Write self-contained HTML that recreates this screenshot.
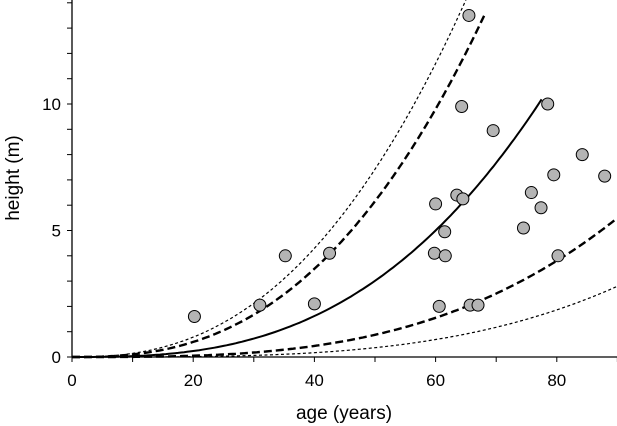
<!DOCTYPE html>
<html><head><meta charset="utf-8"><style>
body{margin:0;background:#fff}
svg{display:block;font-family:"Liberation Sans",sans-serif}
</style></head><body>
<svg id="chart" width="617" height="426" viewBox="0 0 617 426"></svg>
<script>
const ages=[20.2,31,35.2,40,42.5,59.8,60,60.6,61.5,61.6,63.5,64.3,64.5,65.5,65.7,67,69.5,74.5,75.8,77.4,78.5,79.5,80.2,84.2,87.9];
const heights=[1.6,2.05,4.0,2.1,4.1,4.1,6.05,2.0,4.95,4.0,6.4,9.9,6.25,13.5,2.05,2.05,8.95,5.1,6.5,5.9,10.0,7.2,4.0,8.0,7.15];
const curveNames=['upper-dotted','upper-dashed','fit','lower-dashed','lower-dotted'];
const curveH60=[11.6,9.8,5.0,1.55,0.69];
const curveExp=[2.45,2.55,2.78,3.12,3.45];
const curveEnd=[66,68,77.5,90,90];
const xTicks=[0,20,40,60,80];
const yTicks=[0,5,10];
const NS='http://www.w3.org/2000/svg';
const svg=document.getElementById('chart');
const X=v=>72+v*6.06, Y=v=>357-v*25.3;
function mk(t,a,p){const e=document.createElementNS(NS,t);for(const k in a)e.setAttribute(k,a[k]);(p||svg).appendChild(e);return e;}
const ax=mk('line',{x1:72,y1:0,x2:72,y2:357,stroke:'#000','stroke-width':1.3});


const axx=mk('line',{x1:72,y1:357,x2:617,y2:357,stroke:'#000','stroke-width':1.3});


for(let v=0;v<=90;v+=10){const t=mk('line',{x1:X(v),y1:357,x2:X(v),y2:362,stroke:'#000'});

}
for(let v=0;v<=14;v++){const t=mk('line',{x1:67,y1:Y(v),x2:72,y2:Y(v),stroke:'#000'});

}
xTicks.forEach(v=>{const t=mk('text',{x:X(v),y:386,'text-anchor':'middle','font-size':17});t.textContent=v;

});
yTicks.forEach(v=>{const t=mk('text',{x:61,y:Y(v)+6,'text-anchor':'end','font-size':17});t.textContent=v;

});
const xt=mk('text',{x:344,y:419,'text-anchor':'middle','font-size':19});xt.textContent='age (years)';


const yt=mk('text',{x:0,y:0,'text-anchor':'middle','font-size':19,transform:'translate(19,178) rotate(-90)'});yt.textContent='height (m)';


const styles=[{w:1.2,d:'3,2.5'},{w:2.4,d:'8,4'},{w:2,d:''},{w:2.4,d:'8,4'},{w:1.2,d:'3,2.5'}];
curveNames.forEach((n,i)=>{let pts=[];for(let t=0;t<=curveEnd[i];t+=0.5){const h=curveH60[i]*Math.pow(t/60,curveExp[i]);if(h>14.2)break;pts.push(X(t).toFixed(1)+','+Y(h).toFixed(1));}
const p=mk('polyline',{points:pts.join(' '),fill:'none',stroke:'#000','stroke-width':styles[i].w,'stroke-dasharray':styles[i].d});

});
ages.forEach((a,i)=>{const c=mk('circle',{cx:X(a),cy:Y(heights[i]),r:6,fill:'#b4b4b4',stroke:'#000','stroke-width':1});

});
</script>
</body></html>
